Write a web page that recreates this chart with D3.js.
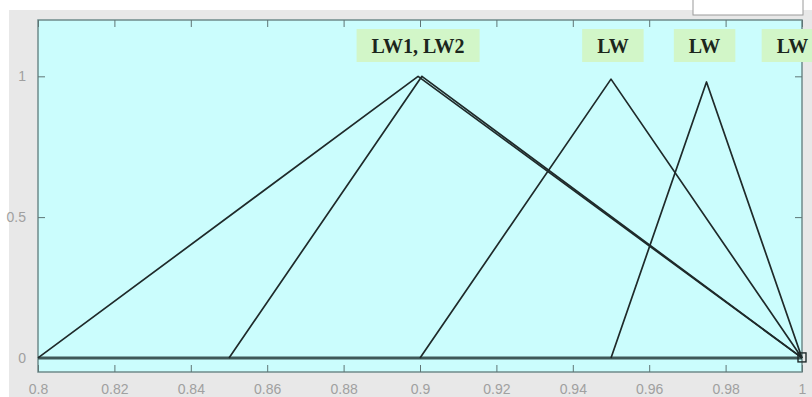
<!DOCTYPE html>
<html>
<head>
<meta charset="utf-8">
<script src="https://cdn.jsdelivr.net/npm/d3@7"></script>
<style>
  body { margin: 0; background: #fff; }
  svg { display: block; }
  .tick text { font-family: "Liberation Sans", Arial, sans-serif; font-size: 14px; fill: #a0a0a0; }
</style>
</head>
<body>
<div id="chart"></div>
<script>
/* CONSTANTS AND GLOBALS */
const width = 812
const height = 397
const margin = { top: 20, bottom: 25, left: 38, right: 10 }

// membership functions: each triangle is [left foot, peak, right foot] and peak height
const seriesNames = ["MF1", "MF2", "MF3", "MF4"]
const footLeft = [0.8, 0.85, 0.9, 0.95]
const peakX = [0.8995, 0.9005, 0.95, 0.975]
const peakY = [1, 1, 0.99, 0.98]
const footRight = [1, 1, 1, 1]

// labels in green boxes above the peaks
const labelText = ["LW1, LW2", "LW", "LW", "LW"]
const labelX = [0.8995, 0.9505, 0.9745, 0.9975]

// axis ticks
const xTicks = [0.8, 0.82, 0.84, 0.86, 0.88, 0.9, 0.92, 0.94, 0.96, 0.98, 1]
const yTicks = [0, 0.5, 1]

/* SCALES */
const xScale = d3.scaleLinear()
  .domain([0.8, 1])
  .range([margin.left, width - margin.right])

const yScale = d3.scaleLinear()
  .domain([-0.05, 1.2])
  .range([height - margin.bottom, margin.top])

/* SVG */
const svg = d3.select("#chart")
  .append("svg")
  .attr("width", width)
  .attr("height", height)

// grey figure background
svg.append("rect")
  .attr("x", 9).attr("y", 10)
  .attr("width", width - 9).attr("height", height - 10)
  .attr("fill", "#e8e8e8")

// little white box top right (legend remnant)
svg.append("rect")
  .attr("x", 693).attr("y", -2)
  .attr("width", 110).attr("height", 17)
  .attr("fill", "#fff")
  .attr("stroke", "#9a9a9a")

// plot area
svg.append("rect")
  .attr("x", margin.left).attr("y", margin.top)
  .attr("width", xScale.range()[1] - margin.left)
  .attr("height", yScale.range()[0] - margin.top)
  .attr("fill", "#cbfdfd")
  .attr("stroke", "#6f8a8a")
  .attr("stroke-width", 1.5)

/* AXES (ticks point inward, like matlab) */
const tickLen = 7
svg.append("g")
  .attr("transform", `translate(0, ${yScale.range()[0]})`)
  .call(d3.axisBottom(xScale).tickValues(xTicks).tickFormat(d3.format("")).tickSizeInner(-tickLen).tickSizeOuter(0).tickPadding(12))
  .call(g => g.select(".domain").remove())
  .call(g => g.selectAll("line").attr("stroke", "#5f7575"))

svg.append("g")
  .attr("transform", `translate(0, ${margin.top})`)
  .call(d3.axisTop(xScale).tickValues(xTicks).tickFormat("").tickSizeInner(-tickLen).tickSizeOuter(0))
  .call(g => g.select(".domain").remove())
  .call(g => g.selectAll("line").attr("stroke", "#5f7575"))

svg.append("g")
  .attr("transform", `translate(${margin.left}, 0)`)
  .call(d3.axisLeft(yScale).tickValues(yTicks).tickFormat(d3.format("")).tickSizeInner(-tickLen).tickSizeOuter(0).tickPadding(12))
  .call(g => g.select(".domain").remove())
  .call(g => g.selectAll("line").attr("stroke", "#5f7575"))

svg.append("g")
  .attr("transform", `translate(${xScale.range()[1]}, 0)`)
  .call(d3.axisRight(yScale).tickValues(yTicks).tickFormat("").tickSizeInner(-tickLen).tickSizeOuter(0))
  .call(g => g.select(".domain").remove())
  .call(g => g.selectAll("line").attr("stroke", "#5f7575"))

// zero baseline
svg.append("line")
  .attr("x1", xScale(0.8)).attr("x2", xScale(1))
  .attr("y1", yScale(0)).attr("y2", yScale(0))
  .attr("stroke", "#3e5858")
  .attr("stroke-width", 3)

/* TRIANGLES */
const tri = seriesNames.map((name, i) => ({
  name: name,
  values: [
    { x: footLeft[i], y: 0 },
    { x: peakX[i], y: peakY[i] },
    { x: footRight[i], y: 0 }
  ]
}))

const line = d3.line()
  .x(d => xScale(d.x))
  .y(d => yScale(d.y))

svg.selectAll(".mf")
  .data(tri)
  .join("path")
    .attr("class", "mf")
    .attr("d", d => line(d.values))
    .attr("fill", "none")
    .attr("stroke", "#1f2a2a")
    .attr("stroke-width", 1.7)
    .attr("stroke-linejoin", "round")

// square marker at the shared right foot
svg.append("rect")
  .attr("x", xScale(1) - 4).attr("y", yScale(0) - 5)
  .attr("width", 8).attr("height", 9)
  .attr("fill", "none")
  .attr("stroke", "#1f2a2a")
  .attr("stroke-width", 1.4)

/* LABELS */
const labels = svg.selectAll(".lbl")
  .data(labelText.map((t, i) => ({ text: t, x: labelX[i] })))
  .join("g")
    .attr("class", "lbl")
    .attr("transform", d => `translate(${xScale(d.x)}, 46)`)

labels.append("text")
  .attr("text-anchor", "middle")
  .attr("dy", "0.35em")
  .style("font-family", "'Liberation Serif', 'DejaVu Serif', serif")
  .style("font-weight", "bold")
  .style("font-size", "20px")
  .style("fill", "#1c261c")
  .text(d => d.text)

labels.each(function () {
  const g = d3.select(this)
  const bb = g.select("text").node().getBBox()
  g.insert("rect", "text")
    .attr("x", bb.x - 15)
    .attr("y", -17)
    .attr("width", bb.width + 30)
    .attr("height", 33)
    .attr("fill", "#d2f6c8")
})
</script>
</body>
</html>
